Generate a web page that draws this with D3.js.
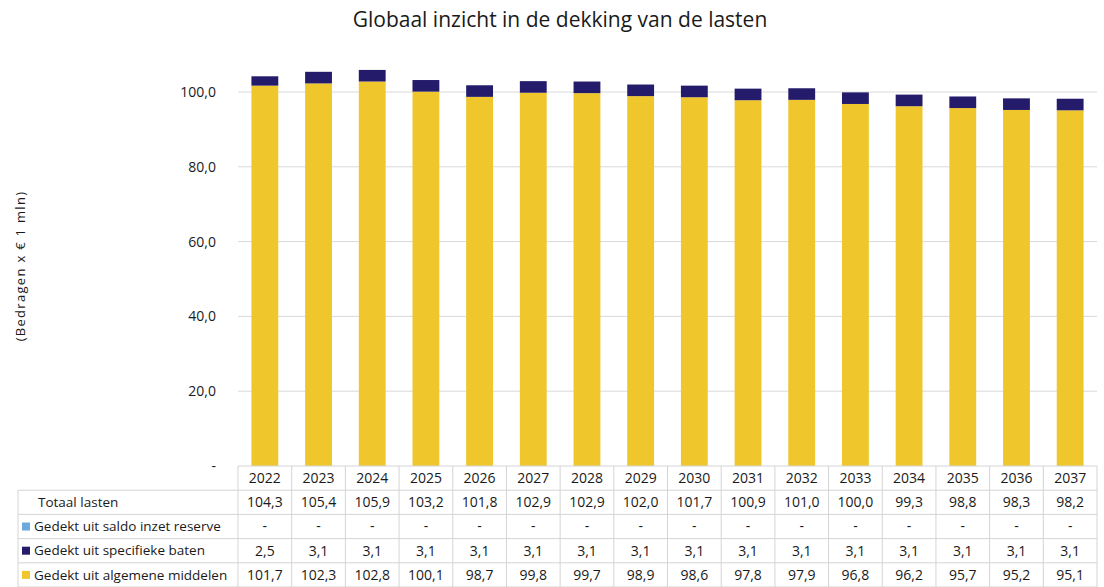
<!DOCTYPE html>
<html>
<head>
<meta charset="utf-8">
<script src="https://cdn.jsdelivr.net/npm/d3@7"></script>
<style>
  body { margin: 0; background: #fff; }
  text { font-family: "Open Sans", sans-serif; fill: #1a1a1a; }
</style>
</head>
<body>
<script>
// data
const years = ["2022","2023","2024","2025","2026","2027","2028","2029","2030","2031","2032","2033","2034","2035","2036","2037"];
const totaal = [104.3,105.4,105.9,103.2,101.8,102.9,102.9,102.0,101.7,100.9,101.0,100.0,99.3,98.8,98.3,98.2];
const reserve = [0,0,0,0,0,0,0,0,0,0,0,0,0,0,0,0];
const specifiek = [2.5,3.1,3.1,3.1,3.1,3.1,3.1,3.1,3.1,3.1,3.1,3.1,3.1,3.1,3.1,3.1];
const algemeen = [101.7,102.3,102.8,100.1,98.7,99.8,99.7,98.9,98.6,97.8,97.9,96.8,96.2,95.7,95.2,95.1];
const yTicks = [0,20,40,60,80,100];

const W = 1104, H = 587;
const left = 238, right = 1097, bottom = 466;

const loc = d3.formatLocale({decimal: ",", thousands: ".", grouping: [3], currency: ["€ ", ""]});
const fmt = v => v === 0 ? "-" : loc.format(".1f")(v);

const svg = d3.select("body").append("svg")
  .attr("width", W).attr("height", H);

// title
svg.append("text")
  .attr("x", 560).attr("y", 27)
  .attr("text-anchor", "middle")
  .style("font-size", "21px")
  .text("Globaal inzicht in de dekking van de lasten");

// scales
const col = d3.scaleBand().domain(years).range([left, right]).padding(0);
const x = d3.scaleBand().domain(years).range([left, right]).paddingInner(0.5).paddingOuter(0.25);
const y = d3.scaleLinear().domain([0, 100]).range([bottom, 92]);

// gridlines
svg.append("g").selectAll("line")
  .data(yTicks.filter(d => d > 0))
  .enter().append("line")
  .attr("x1", left).attr("x2", right)
  .attr("y1", d => y(d)).attr("y2", d => y(d))
  .attr("stroke", "#d9d9d9").attr("stroke-width", 1);

// y axis labels
const yAxis = svg.append("g")
  .attr("transform", "translate(" + (left - 19) + ",0)")
  .call(d3.axisLeft(y).tickValues(yTicks).tickSize(0).tickFormat(fmt));
yAxis.select(".domain").remove();
yAxis.selectAll("text").style("font-size", "14px").style("font-family", "Open Sans, sans-serif").attr("fill", "#333");

svg.append("text")
  .attr("transform", "translate(25," + 266 + ") rotate(-90)")
  .attr("text-anchor", "middle")
  .style("font-size", "13px")
  .style("letter-spacing", "1.3px")
  .text("(Bedragen x € 1 mln)");

// stacked bars
const rows = years.map((yr, i) => ({year: yr, algemeen: algemeen[i], specifiek: specifiek[i], reserve: reserve[i]}));
const stack = d3.stack().keys(["algemeen", "specifiek", "reserve"])(rows);
const color = d3.scaleOrdinal()
  .domain(["algemeen", "specifiek", "reserve"])
  .range(["#efc72d", "#241b6b", "#6fa8dc"]);

svg.append("g").selectAll("g")
  .data(stack)
  .enter().append("g")
  .attr("fill", d => color(d.key))
  .selectAll("rect")
  .data(d => d)
  .enter().append("rect")
  .attr("x", d => x(d.data.year))
  .attr("y", d => y(d[1]))
  .attr("width", x.bandwidth())
  .attr("height", d => y(d[0]) - y(d[1]));

// data table
const rowH = 24.2;
const tableTop = bottom;
const tableLeft = 18;
const tableRows = [
  {label: "Totaal lasten", vals: totaal, key: null},
  {label: "Gedekt uit saldo inzet reserve", vals: reserve, key: "reserve"},
  {label: "Gedekt uit specifieke baten", vals: specifiek, key: "specifiek"},
  {label: "Gedekt uit algemene middelen", vals: algemeen, key: "algemeen"}
];
const lineColor = "#d4d4d4";
const tbl = svg.append("g");

// horizontal lines
tbl.append("line").attr("x1", left).attr("x2", right).attr("y1", tableTop).attr("y2", tableTop).attr("stroke", lineColor);
for (let r = 1; r <= 5; r++) {
  tbl.append("line")
    .attr("x1", tableLeft).attr("x2", right)
    .attr("y1", tableTop + r * rowH).attr("y2", tableTop + r * rowH)
    .attr("stroke", lineColor);
}
// vertical lines
tbl.append("line").attr("x1", tableLeft).attr("x2", tableLeft).attr("y1", tableTop + rowH).attr("y2", H).attr("stroke", lineColor);
years.forEach(yr => {
  tbl.append("line").attr("x1", col(yr)).attr("x2", col(yr)).attr("y1", tableTop).attr("y2", H).attr("stroke", lineColor);
});
tbl.append("line").attr("x1", right).attr("x2", right).attr("y1", tableTop).attr("y2", H).attr("stroke", lineColor);

// header years
tbl.selectAll(".yr").data(years).enter().append("text")
  .attr("x", d => col(d) + col.bandwidth() / 2)
  .attr("y", tableTop + rowH / 2)
  .attr("dy", ".35em")
  .attr("text-anchor", "middle")
  .style("font-size", "14px")
  .text(d => d);

tableRows.forEach((row, r) => {
  const cy = tableTop + (r + 1) * rowH + rowH / 2;
  if (row.key) {
    tbl.append("rect")
      .attr("x", 22).attr("y", cy - 4)
      .attr("width", 8).attr("height", 8)
      .attr("fill", color(row.key));
  }
  tbl.append("text")
    .attr("x", row.key ? 34 : 38).attr("y", cy)
    .attr("dy", ".35em")
    .style("font-size", "13.5px")
    .text(row.label);
  tbl.selectAll(".v" + r).data(row.vals).enter().append("text")
    .attr("x", (d, i) => col(years[i]) + col.bandwidth() / 2)
    .attr("y", cy)
    .attr("dy", ".35em")
    .attr("text-anchor", "middle")
    .style("font-size", "14px")
    .text(d => fmt(d));
});
</script>
</body>
</html>
